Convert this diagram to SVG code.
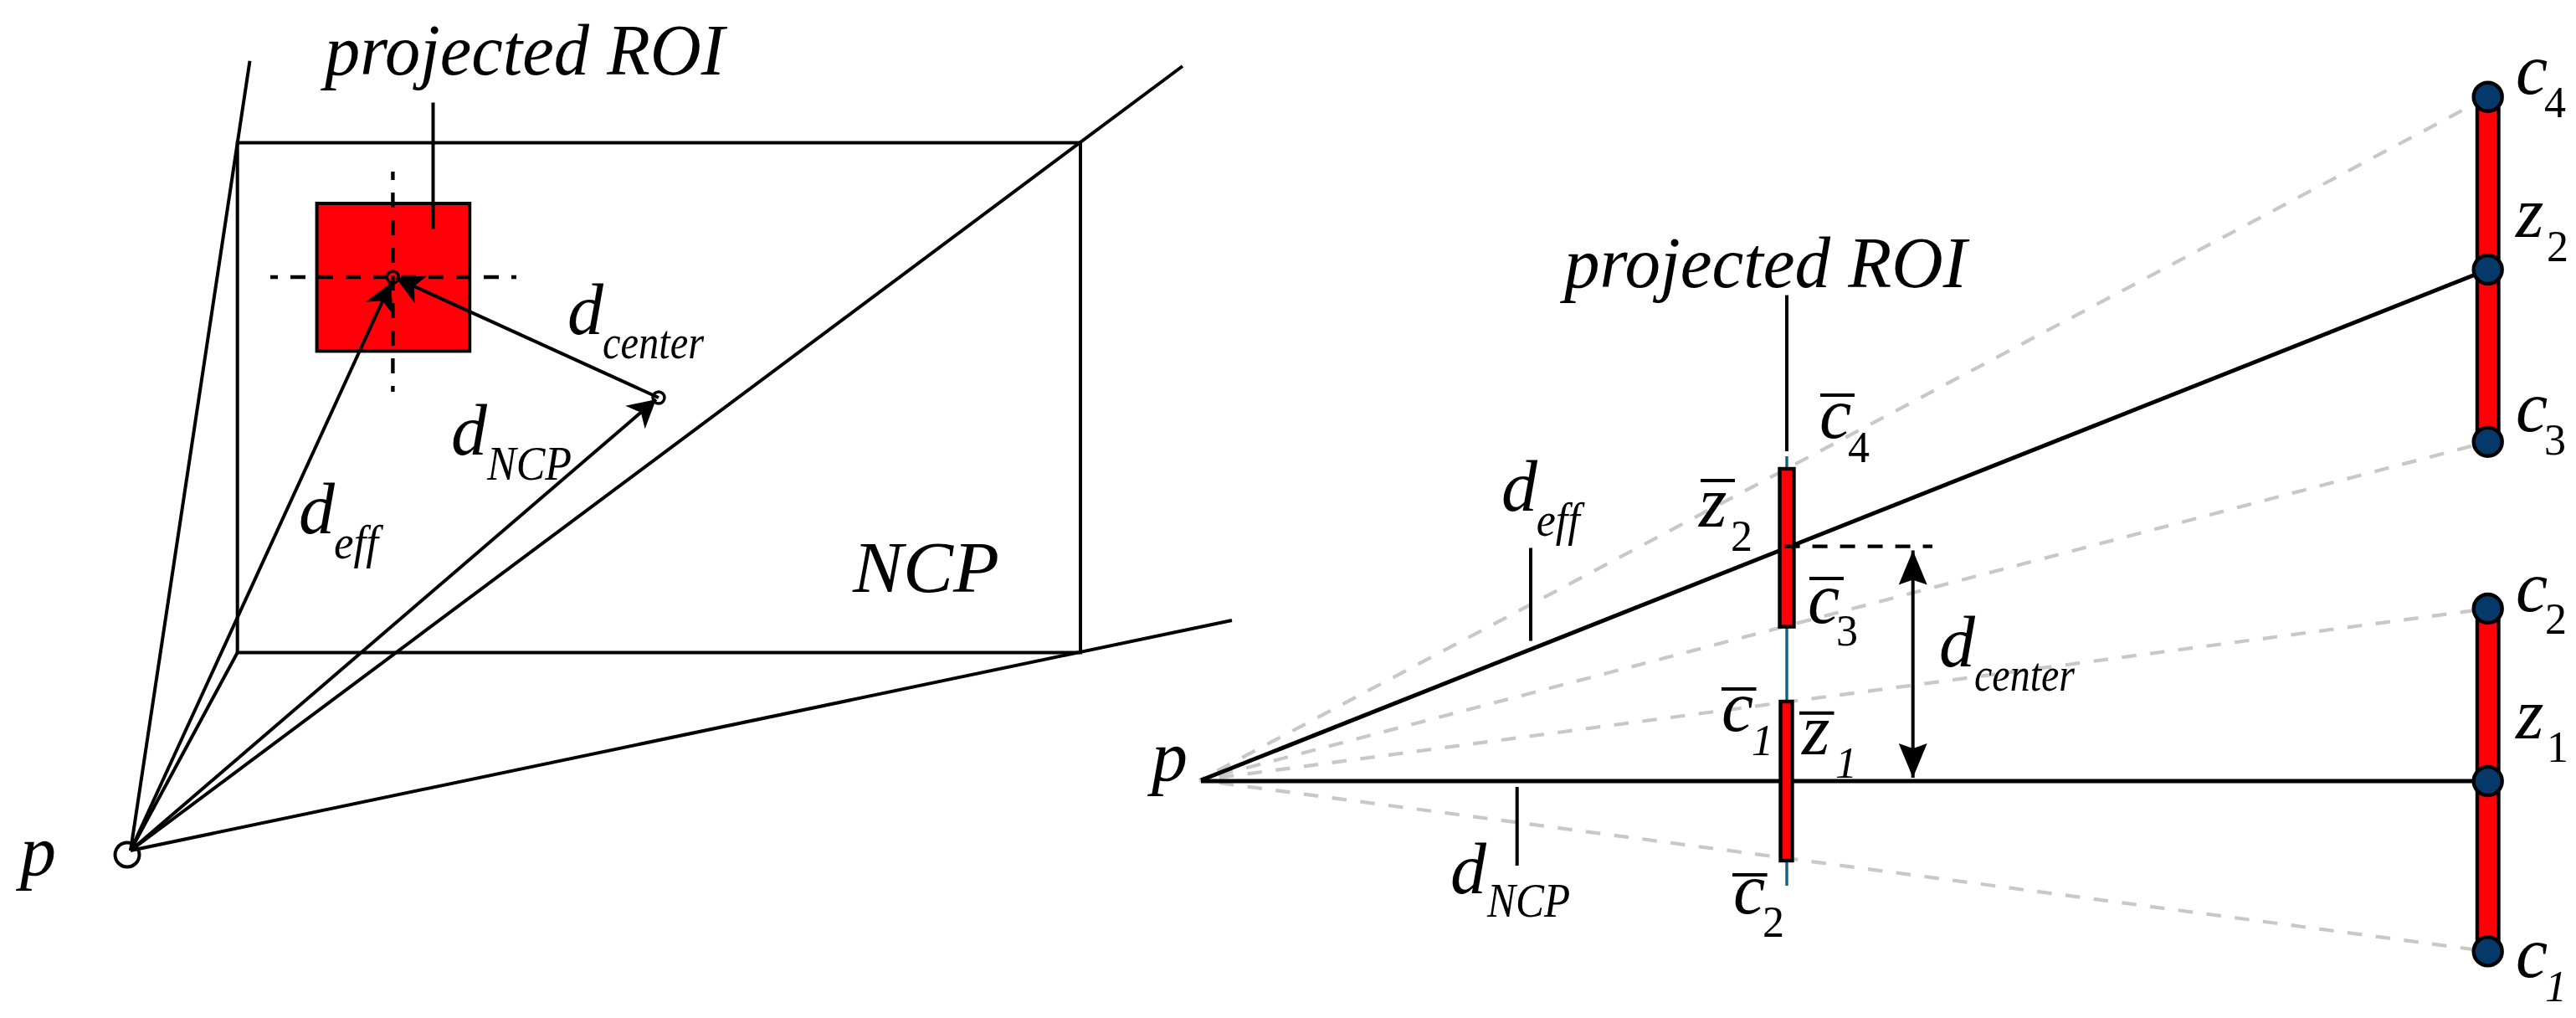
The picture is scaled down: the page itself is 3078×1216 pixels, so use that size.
<svg xmlns="http://www.w3.org/2000/svg" width="3078" height="1216" viewBox="0 0 3078 1216">
<style>
text{font-family:"Liberation Serif","Times New Roman",serif;font-style:italic;fill:#000}
.b{font-size:86px}.m{font-size:86px}.s{font-size:56px}.n{font-size:52px;font-style:normal}.ni{font-size:52px}
.l{fill:none;stroke:#000;stroke-width:4}
.h{fill:none;stroke:#000;stroke-width:5}
.g{fill:none;stroke:#c8c8c8;stroke-width:4.2;stroke-dasharray:17.5 16.5;stroke-dashoffset:10}
.d{fill:none;stroke:#000;stroke-width:4.4;stroke-dasharray:18 15}
.bl{fill:none;stroke:#156082;stroke-width:3.4}
.o{fill:none;stroke:#000;stroke-width:4}
.r{fill:#ff0009;stroke:#000;stroke-width:4.4}
.c{fill:#04396a;stroke:#000;stroke-width:4.4}
.ring{fill:none;stroke:#000;stroke-width:3.4}
</style>
<defs>
<marker id="st" markerUnits="userSpaceOnUse" markerWidth="40" markerHeight="40" viewBox="-36 -20 40 40" refX="0" refY="0" orient="auto"><path d="M0 0L-33 -18L-24 0L-33 18Z" fill="#000"/></marker>
<marker id="st2" markerUnits="userSpaceOnUse" markerWidth="48" markerHeight="40" viewBox="-44 -20 48 40" refX="0" refY="0" orient="auto"><path d="M0 0L-41 -17L-35 0L-41 17Z" fill="#000"/></marker>
</defs>
<rect width="3078" height="1216" fill="#fff"/>

<g id="ncp-plane">
<rect class="l" x="283.7" y="170.5" width="1007.3" height="609"/>
<text class="b" x="1019" y="707" textLength="175" lengthAdjust="spacingAndGlyphs">NCP</text>
</g>
<g id="roi-left">
<rect x="378.6" y="243" width="182.6" height="176.4" fill="#ff0009" stroke="#000" stroke-width="4"/>
<text class="b" x="388" y="89" textLength="478" lengthAdjust="spacingAndGlyphs">projected ROI</text>
</g>
<g id="center-left"><circle class="ring" cx="469.4" cy="331" r="7"/></g>
<g id="ncp-point-left"><circle class="ring" cx="787" cy="475" r="7"/></g>
<g id="p-left">
<circle class="ring" cx="152" cy="1021" r="14.5" style="stroke-width:4"/>
<text class="b" x="24" y="1045">p</text>
</g>

<g id="connectors">
<line class="l" x1="156" y1="1016" x2="298.5" y2="72.7"/>
<line class="l" x1="156" y1="1016" x2="1413" y2="79"/>
<line class="l" x1="156" y1="1016" x2="1472" y2="741"/>
<line class="l" x1="156" y1="1016" x2="283.7" y2="779.5"/>
<line class="l" x1="517.5" y1="122.5" x2="517.5" y2="273.6"/>
<line class="d" x1="469.4" y1="205" x2="469.4" y2="468" stroke-dashoffset="8"/>
<line class="d" x1="323" y1="331" x2="617" y2="331" stroke-dashoffset="9"/>
<line class="l" x1="156" y1="1016" x2="467" y2="338" marker-end="url(#st)"/>
<line class="l" x1="787" y1="475" x2="473" y2="332" marker-end="url(#st)"/>
<line class="l" x1="156" y1="1016" x2="784" y2="477" marker-end="url(#st)"/>

<line class="g" x1="1433" y1="932" x2="2972.7" y2="115.7"/>
<line class="g" x1="1433" y1="932" x2="2972.7" y2="527.7"/>
<line class="g" x1="1433" y1="932" x2="2972.7" y2="727"/>
<line class="g" x1="1433" y1="932" x2="2972.7" y2="1136.4"/>
<line class="bl" x1="2135" y1="545" x2="2135" y2="1058"/>
<line class="h" x1="1435" y1="932" x2="2972.7" y2="322"/>
<line class="h" x1="1435" y1="933" x2="2972.7" y2="933"/>
<line class="l" x1="2135" y1="352.6" x2="2135" y2="539"/>
<line class="l" x1="1829" y1="654.5" x2="1829" y2="765.5"/>
<line class="l" x1="1812.7" y1="940" x2="1812.7" y2="1034"/>
<line class="l" x1="2285.7" y1="790" x2="2285.7" y2="657.6" marker-end="url(#st2)"/>
<line class="l" x1="2285.7" y1="790" x2="2285.7" y2="929" marker-end="url(#st2)"/>
</g>

<g id="labels-left">
<text class="b" x="678" y="399">d</text><text class="s" x="720" y="428" textLength="121" lengthAdjust="spacingAndGlyphs">center</text>
<text class="b" x="539" y="543">d</text><text class="s" x="582" y="573" textLength="101" lengthAdjust="spacingAndGlyphs">NCP</text>
<text class="b" x="357" y="637">d</text><text class="s" x="399" y="667" textLength="53" lengthAdjust="spacingAndGlyphs">eff</text>
</g>

<g id="roi-bar-upper"><rect class="r" x="2126.5" y="560" width="17" height="188.6"/></g>
<g id="roi-bar-lower"><rect class="r" x="2127.5" y="838" width="14" height="190"/></g>
<g id="far-bar-upper"><rect class="r" x="2960" y="116" width="25.5" height="412"/></g>
<g id="far-bar-lower"><rect class="r" x="2960" y="727" width="25.5" height="410"/></g>
<g id="node-c4"><circle class="c" cx="2972.7" cy="115.7" r="17"/><text class="m" x="3006" y="111.7">c</text><text class="n" x="3040" y="140">4</text></g>
<g id="node-z2"><circle class="c" cx="2972.7" cy="322" r="17"/><text class="m" x="3006" y="283">z</text><text class="n" x="3043" y="311.7">2</text></g>
<g id="node-c3"><circle class="c" cx="2972.7" cy="527.7" r="17"/><text class="m" x="3006" y="515">c</text><text class="n" x="3040" y="543">3</text></g>
<g id="node-c2"><circle class="c" cx="2972.7" cy="727" r="17"/><text class="m" x="3006" y="729.6">c</text><text class="n" x="3041" y="757">2</text></g>
<g id="node-z1"><circle class="c" cx="2972.7" cy="933" r="17"/><text class="m" x="3006" y="881.7">z</text><text class="n" x="3043" y="909.7">1</text></g>
<g id="node-c1"><circle class="c" cx="2972.7" cy="1136.4" r="17"/><text class="m" x="3006" y="1167">c</text><text class="ni" x="3041" y="1195.5">1</text></g>

<g id="center-dash"><line class="d" x1="2132.6" y1="652.6" x2="2309" y2="652.6" stroke-dasharray="15 8"/></g>

<g id="labels-right">
<text class="b" x="1869" y="343" textLength="481" lengthAdjust="spacingAndGlyphs">projected ROI</text>
<text class="b" x="1376" y="931.7">p</text>
<text class="b" x="1794" y="610">d</text><text class="s" x="1835.7" y="640" textLength="52" lengthAdjust="spacingAndGlyphs">eff</text>
<text class="b" x="1733" y="1067">d</text><text class="s" x="1777" y="1095" textLength="99" lengthAdjust="spacingAndGlyphs">NCP</text>
<text class="b" x="2317" y="796">d</text><text class="s" x="2359" y="825" textLength="120" lengthAdjust="spacingAndGlyphs">center</text>
<line class="o" x1="2175" y1="472" x2="2216" y2="472"/><text class="m" x="2174" y="522.5">c</text><text class="n" x="2208" y="552">4</text>
<line class="o" x1="2032" y1="574" x2="2073" y2="574"/><text class="m" x="2030" y="629">z</text><text class="n" x="2068" y="657.6">2</text>
<line class="o" x1="2162" y1="691" x2="2203" y2="691"/><text class="m" x="2160" y="743.7">c</text><text class="n" x="2194" y="771">3</text>
<line class="o" x1="2057" y1="823" x2="2098.5" y2="823"/><text class="m" x="2057" y="873">c</text><text class="ni" x="2093" y="901.7">1</text>
<line class="o" x1="2150" y1="851.7" x2="2191.5" y2="851.7"/><text class="m" x="2153" y="900.7">z</text><text class="ni" x="2193" y="929">1</text>
<line class="o" x1="2070" y1="1045" x2="2111.6" y2="1045"/><text class="m" x="2071" y="1090.7">c</text><text class="n" x="2106" y="1119">2</text>
</g>
</svg>
